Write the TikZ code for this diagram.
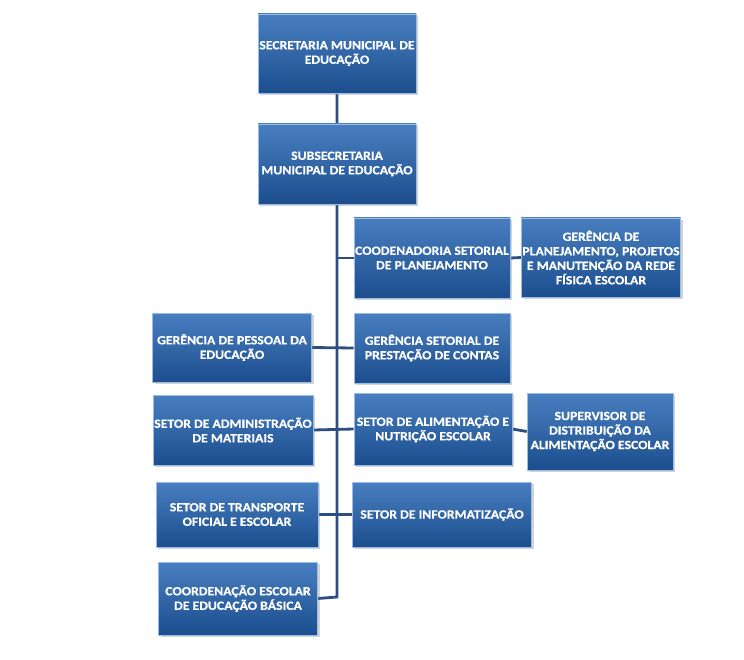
\documentclass[tikz,border=0pt]{standalone}
\usepackage{fontspec}
\setmainfont{Carlito}[BoldFont = {Carlito Bold}, BoldFeatures = {FakeStretch = 1.1, FakeBold = 0.6}]
\usetikzlibrary{positioning, shadows, backgrounds}

\definecolor{boxtop}{RGB}{72,126,192}
\definecolor{boxbottom}{RGB}{28,78,142}
\definecolor{boxedge}{RGB}{150,190,230}
\definecolor{linkblue}{RGB}{44,78,128}

\tikzset{
    orgbox/.style 2 args = {rectangle, minimum width = #1pt, minimum height = #2pt, inner sep = 1pt,
        top color = boxtop, bottom color = boxbottom, draw = boxedge, line width = 0.6pt,
        drop shadow = {shadow xshift = 2pt, shadow yshift = -2pt, opacity = 0.35},
        text = white, align = center, font = \fontsize{12.5}{14.5}\selectfont\bfseries},
    link/.style = {draw = linkblue, line width = 2.8pt}
}

\begin{document}
\begin{tikzpicture}[x = 1pt, y = -1pt]

    \useasboundingbox (0, 0) rectangle (744, 660);

    % top of the chart
    \node (sec) [orgbox = {158}{79}] at (337, 53.5) {SECRETARIA MUNICIPAL DE\\EDUCAÇÃO};
    \node (sub) [orgbox = {158}{80}] at (337, 164) {SUBSECRETARIA\\MUNICIPAL DE EDUCAÇÃO};

    % right column
    \node (cood)   [orgbox = {156}{80}] at (432, 258)   {COODENADORIA SETORIAL\\DE PLANEJAMENTO};
    \node (gprest) [orgbox = {156}{70}] at (432, 348)   {GERÊNCIA SETORIAL DE\\PRESTAÇÃO DE CONTAS};
    \node (salim)  [orgbox = {158}{72}] at (433, 429)   {SETOR DE ALIMENTAÇÃO E\\NUTRIÇÃO ESCOLAR};
    \node (sinfo)  [orgbox = {179}{65}] at (442, 514.5) {SETOR DE INFORMATIZAÇÃO};

    % far right
    \node (gplan)  [orgbox = {158}{79}] at (601, 257.5) {GERÊNCIA DE\\PLANEJAMENTO, PROJETOS\\E MANUTENÇÃO DA REDE\\FÍSICA ESCOLAR};
    \node (superv) [orgbox = {146}{77}] at (600, 431.5) {SUPERVISOR DE\\DISTRIBUIÇÃO DA\\ALIMENTAÇÃO ESCOLAR};

    % left column
    \node (gpes)   [orgbox = {159}{69}] at (232, 347.5) {GERÊNCIA DE PESSOAL DA\\EDUCAÇÃO};
    \node (sadm)   [orgbox = {160}{70}] at (233, 430)   {SETOR DE ADMINISTRAÇÃO\\DE MATERIAIS};
    \node (strans) [orgbox = {162}{65}] at (237, 514.5) {SETOR DE TRANSPORTE\\OFICIAL E ESCOLAR};
    \node (coord)  [orgbox = {159}{73}] at (238, 598.5) {COORDENAÇÃO ESCOLAR\\DE EDUCAÇÃO BÁSICA};

    \coordinate (trunkend) at (337, 597);

    \begin{scope}[on background layer]
        \draw [link] (sec.south) -- (trunkend) -- (coord.east);
        \foreach \left / \right in {gpes/gprest, sadm/salim, strans/sinfo}
            \draw [link] (\left.east) -- (\right.west);
        \draw [link] (cood.west) -- (cood.west -| trunkend);
        \draw [link] (cood.east) -- (gplan.west);
        \draw [link] (salim.east) -- (superv.west);
    \end{scope}

\end{tikzpicture}
\end{document}
